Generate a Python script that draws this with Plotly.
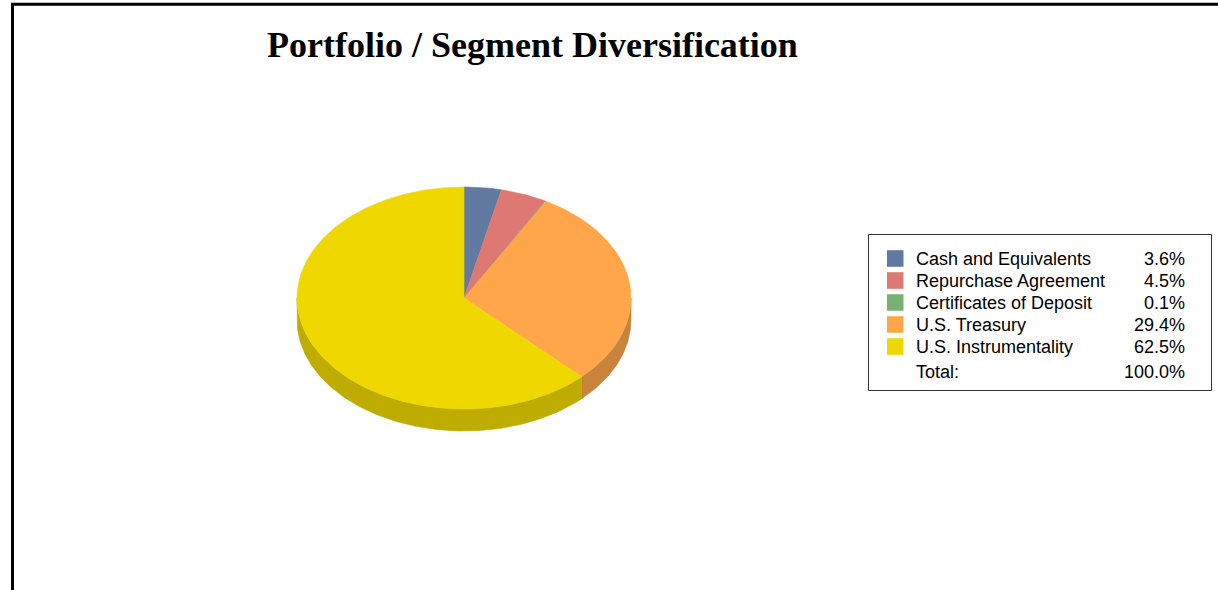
import numpy as np
import plotly.graph_objects as go

# ---- data ----
categories = ["Cash and Equivalents", "Repurchase Agreement", "Certificates of Deposit",
              "U.S. Treasury", "U.S. Instrumentality"]
values = [3.6, 4.5, 0.1, 29.4, 62.5]
value_labels = ["3.6%", "4.5%", "0.1%", "29.4%", "62.5%"]
total_label = "Total:"
total_value = "100.0%"
title_text = "Portfolio / Segment Diversification"

# ---- style ----
colors = ["#627AA2", "#DE7872", "#7AB074", "#FFA64A", "#EED800"]
side_colors = ["#4A5C7C", "#A85A56", "#5C8558", "#C8843C", "#BEAD00"]

W, H = 1218, 590
CX, CY, RX, RY, DEPTH = 464, 298, 167, 111, 22

fig = go.Figure()

tot = float(sum(values))
bounds = np.concatenate([[0.0], np.cumsum(values) / tot]) * 2 * np.pi


def arc(a, b, dy=0.0, n=None):
    if n is None:
        n = max(3, int(abs(b - a) / (2 * np.pi) * 400))
    t = np.linspace(a, b, n)
    return CX + RX * np.sin(t), CY - RY * np.cos(t) + dy


# side walls (front half only)
for i in range(len(values)):
    a, b = bounds[i], bounds[i + 1]
    lo, hi = max(a, np.pi / 2), min(b, 3 * np.pi / 2)
    if lo < hi:
        x1, y1 = arc(lo, hi)
        x2, y2 = arc(hi, lo, DEPTH)
        xs = np.concatenate([x1, x2, x1[:1]])
        ys = np.concatenate([y1, y2, y1[:1]])
        fig.add_trace(go.Scatter(x=xs, y=ys, mode="lines", fill="toself",
                                 fillcolor=side_colors[i],
                                 line=dict(color=side_colors[i], width=0.6),
                                 hoverinfo="skip", showlegend=False))

# top faces
for i in range(len(values)):
    a, b = bounds[i], bounds[i + 1]
    x1, y1 = arc(a, b)
    xs = np.concatenate([[CX], x1, [CX]])
    ys = np.concatenate([[CY], y1, [CY]])
    fig.add_trace(go.Scatter(x=xs, y=ys, mode="lines", fill="toself",
                             fillcolor=colors[i],
                             line=dict(color=colors[i], width=0.6),
                             name=categories[i], hoverinfo="name", showlegend=False))

shapes = []
annotations = []

# outer frame (left and top lines)
shapes.append(dict(type="line", xref="x", yref="y", x0=12.5, x1=12.5, y0=3, y1=H + 5,
                   line=dict(color="black", width=3)))
shapes.append(dict(type="line", xref="x", yref="y", x0=11, x1=W + 5, y0=4.2, y1=4.2,
                   line=dict(color="black", width=3)))

# legend box
shapes.append(dict(type="rect", xref="x", yref="y", x0=868.5, x1=1211.5, y0=234.5, y1=390.5,
                   line=dict(color="#333333", width=1), fillcolor="white", layer="below"))

FONT = "Liberation Sans, Arial"
row_y = [258.5, 280.5, 302.5, 324.5, 346.5]
for i, cat in enumerate(categories):
    y = row_y[i]
    shapes.append(dict(type="rect", xref="x", yref="y", x0=887, x1=903.5, y0=y - 8.3, y1=y + 8.3,
                       fillcolor=colors[i], line=dict(width=0)))
    annotations.append(dict(x=914, y=y, xref="x", yref="y", text=cat, showarrow=False,
                            xanchor="left", yanchor="middle",
                            font=dict(family=FONT, size=18, color="black")))
    annotations.append(dict(x=1187, y=y, xref="x", yref="y", text=value_labels[i], showarrow=False,
                            xanchor="right", yanchor="middle",
                            font=dict(family=FONT, size=18, color="black")))
annotations.append(dict(x=914, y=372, xref="x", yref="y", text=total_label, showarrow=False,
                        xanchor="left", yanchor="middle",
                        font=dict(family=FONT, size=18, color="black")))
annotations.append(dict(x=1187, y=372, xref="x", yref="y", text=total_value, showarrow=False,
                        xanchor="right", yanchor="middle",
                        font=dict(family=FONT, size=18, color="black")))

# title
annotations.append(dict(x=532, y=45, xref="x", yref="y", text="<b>" + title_text + "</b>",
                        showarrow=False, xanchor="center", yanchor="middle",
                        font=dict(family="Liberation Serif, Times New Roman", size=36, color="black")))

fig.update_layout(
    width=W, height=H,
    margin=dict(l=0, r=0, t=0, b=0),
    paper_bgcolor="white", plot_bgcolor="white",
    xaxis=dict(range=[0, W], visible=False, fixedrange=True),
    yaxis=dict(range=[H, 0], visible=False, fixedrange=True),
    shapes=shapes, annotations=annotations,
    showlegend=False,
)

fig.write_html("out.html", config={"displayModeBar": False},
               post_script="document.body.style.margin='0';document.body.style.overflow='hidden';")
